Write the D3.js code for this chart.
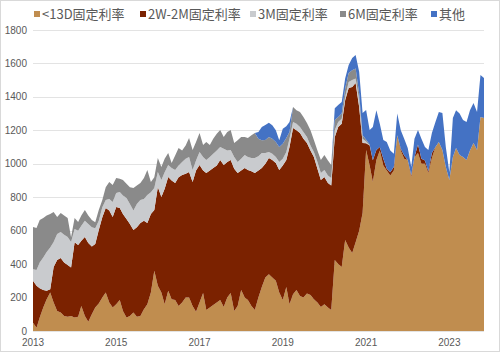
<!DOCTYPE html>
<html>
<head>
<meta charset="utf-8">
<script src="https://cdn.jsdelivr.net/npm/d3@7"></script>
<style>
  body { margin: 0; background: #fff; }
  svg { display: block; }
</style>
</head>
<body>
<div id="chart"></div>
<script>
// monthly, 2013-01 .. 2023-11
const startMonth = new Date(2013, 0, 1)
const monthCount = 131
const months = d3.timeMonth.range(startMonth, d3.timeMonth.offset(startMonth, monthCount))

const seriesNames = ["<13D固定利率", "2W-2M固定利率", "3M固定利率", "6M固定利率", "其他"]
const yTicks = [0, 200, 400, 600, 800, 1000, 1200, 1400, 1600, 1800]
const xTickYears = [2013, 2015, 2017, 2019, 2021, 2023]

const fixed13D = [
  50, 20, 80, 140, 190, 230, 170, 120, 110, 90, 85, 90,
  80, 85, 150, 90, 55, 100, 140, 165, 200, 230, 170, 140,
  160, 185, 120, 80, 90, 110, 85, 90, 130, 160, 230, 360,
  270, 230, 160, 240, 190, 185, 150, 170, 200, 200, 150, 115,
  170, 227, 126, 140, 155, 170, 185, 144, 200, 227, 120, 150,
  245, 200, 185, 150, 126, 200, 263, 320, 340, 320, 300, 230,
  185, 263, 160, 220, 245, 210, 200, 225, 215, 190, 170, 144,
  160, 140, 126, 425, 400, 383, 544, 500, 467, 530, 600, 705,
  1083, 990, 891, 1023, 1080, 990, 960, 930, 960, 1170, 1080, 1030,
  1023, 921, 1040, 1065, 1000, 1000, 945, 1035, 1100, 1130, 1083, 980,
  903, 1040, 1095, 1053, 1040, 1023, 1080, 1124, 1083, 1280, 1274
]
const fixed2W2M = [
  250, 250, 175, 105, 50, 20, 213, 305, 327, 320, 310, 290,
  450, 429, 390, 472, 471, 405, 380, 439, 480, 506, 550, 542,
  582, 551, 580, 590, 550, 494, 535, 556, 530, 486, 470, 364,
  591, 571, 690, 681, 710, 700, 770, 763, 740, 751, 741, 845,
  823, 733, 819, 820, 820, 820, 838, 849, 810, 796, 850, 795,
  715, 775, 778, 805, 819, 760, 712, 680, 695, 703, 705, 733,
  805, 760, 940, 994, 955, 974, 950, 899, 865, 850, 800, 759,
  761, 745, 744, 735, 820, 857, 836, 953, 992, 953, 740, 419,
  40, 120, 130, 60, 20, 40, 10, 20, 20, 0, 10, 20,
  0, 10, 0, 50, 30, 20, 10, 30, 0, 0, 0, 0,
  0, 0, 0, 0, 0, 0, 0, 0, 0, 0, 0
]
const fixed3M = [
  70, 95, 155, 195, 233, 250, 149, 155, 155, 165, 167, 152,
  80, 86, 90, 98, 114, 115, 95, 56, 60, 47, 70, 89,
  83, 95, 110, 125, 120, 116, 140, 137, 130, 167, 130, 131,
  90, 102, 100, 72, 75, 78, 70, 78, 90, 89, 72, 60,
  78, 80, 78, 80, 85, 90, 77, 97, 70, 60, 70, 66,
  70, 78, 77, 80, 90, 85, 90, 65, 36, 37, 35, 48,
  40, 48, 50, 36, 40, 36, 40, 36, 30, 30, 40, 42,
  42, 45, 45, 42, 30, 30, 20, 36, 42, 27, 42, 26,
  10, 0, 0, 0, 0, 0, 0, 0, 0, 0, 0, 0,
  0, 0, 0, 0, 0, 0, 0, 0, 0, 0, 0, 0,
  0, 0, 0, 0, 0, 0, 0, 0, 0, 0, 0
]
const fixed6M = [
  252, 251, 254, 236, 217, 200, 180, 102, 114, 115, 114, 28,
  66, 52, 60, 64, 50, 44, 35, 64, 43, 77, 101, 102,
  90, 79, 93, 85, 100, 135, 110, 102, 125, 150, 61, 65,
  84, 78, 80, 72, 30, 87, 105, 69, 80, 114, 120, 110,
  113, 72, 107, 72, 90, 100, 102, 70, 110, 119, 84, 129,
  130, 107, 114, 135, 149, 105, 75, 77, 89, 90, 90, 89,
  90, 83, 40, 90, 80, 90, 90, 84, 90, 72, 70, 78,
  90, 90, 78, 60, 30, 30, 50, 54, 59, 60, 38, 20,
  10, 5, 0, 0, 0, 0, 0, 0, 0, 0, 0, 0,
  0, 0, 0, 0, 0, 0, 0, 0, 0, 0, 0, 0,
  0, 0, 0, 0, 0, 0, 0, 0, 0, 0, 0
]
const other = [
  0, 0, 0, 0, 0, 0, 0, 0, 0, 0, 0, 0,
  0, 0, 0, 0, 0, 0, 0, 0, 0, 0, 0, 0,
  0, 0, 0, 0, 0, 0, 0, 0, 0, 0, 0, 0,
  0, 0, 0, 0, 0, 0, 0, 0, 0, 0, 0, 0,
  0, 0, 0, 0, 0, 0, 0, 0, 0, 0, 0, 0,
  0, 0, 0, 0, 0, 40, 80, 90, 85, 80, 70, 40,
  90, 70, 60, 0, 0, 0, 0, 0, 0, 0, 0, 0,
  0, 0, 0, 70, 72, 70, 60, 48, 73, 80, 130, 134,
  179, 87, 199, 237, 140, 112, 160, 130, 80, 130, 110, 100,
  72, 49, 110, 87, 120, 80, 128, 119, 150, 180, 221, 120,
  47, 234, 225, 247, 222, 227, 240, 240, 227, 251, 239
]

const seriesValues = [fixed13D, fixed2W2M, fixed3M, fixed6M, other]
const colors = ["#C08D4F", "#7B2200", "#C9CBCE", "#8A8A8A", "#4472C4"]

const width = 500
const height = 352
const margin = { top: 30, right: 16, bottom: 21, left: 33 }

const svg = d3.select("#chart")
  .append("svg")
  .attr("width", width)
  .attr("height", height)

// chart border
svg.append("rect")
  .attr("x", 0.5).attr("y", 0.5)
  .attr("width", width - 1).attr("height", height - 1)
  .attr("fill", "#fff")
  .attr("stroke", "#d9d9d9")

const rows = months.map((m, i) => {
  const r = { date: m }
  seriesNames.forEach((k, j) => { r[k] = seriesValues[j][i] })
  return r
})

const x = d3.scaleTime()
  .domain([months[0], months[months.length - 1]])
  .range([margin.left, width - margin.right])

const y = d3.scaleLinear()
  .domain([0, 1800])
  .range([height - margin.bottom, margin.top])

// gridlines
svg.append("g")
  .selectAll("line")
  .data(yTicks)
  .join("line")
  .attr("x1", margin.left)
  .attr("x2", width - margin.right)
  .attr("y1", d => Math.round(y(d)) + 0.5)
  .attr("y2", d => Math.round(y(d)) + 0.5)
  .attr("stroke", "#e3e3e3")

const stacked = d3.stack().keys(seriesNames)(rows)

const area = d3.area()
  .x(d => x(d.data.date))
  .y0(d => y(d[0]))
  .y1(d => y(d[1]))

svg.append("g")
  .selectAll("path")
  .data(stacked)
  .join("path")
  .attr("d", area)
  .attr("fill", (d, i) => colors[i])

// y axis labels
svg.append("g")
  .selectAll("text")
  .data(yTicks)
  .join("text")
  .attr("x", 27)
  .attr("y", d => y(d))
  .attr("dy", "0.35em")
  .attr("text-anchor", "end")
  .style("font-family", "'Liberation Sans', Arial, sans-serif")
  .style("font-size", "10px")
  .attr("fill", "#595959")
  .text(d => d)

// x axis labels
svg.append("g")
  .selectAll("text")
  .data(xTickYears)
  .join("text")
  .attr("x", d => x(new Date(d, 0, 1)))
  .attr("y", height - 6)
  .attr("text-anchor", "middle")
  .style("font-family", "'Liberation Sans', Arial, sans-serif")
  .style("font-size", "10px")
  .attr("fill", "#595959")
  .text(d => d)

// legend
const legendX = [34, 140, 250, 340, 431]
const legend = svg.append("g")
  .selectAll("g")
  .data(seriesNames)
  .join("g")
  .attr("transform", (d, i) => "translate(" + legendX[i] + ",14)")

legend.append("rect")
  .attr("x", 0).attr("y", -3)
  .attr("width", 6).attr("height", 6)
  .attr("fill", (d, i) => colors[i])

legend.append("text")
  .attr("x", 8)
  .attr("dy", "0.35em")
  .style("font-family", "'Noto Sans CJK SC', sans-serif")
  .style("font-size", "13px")
  .attr("fill", "#595959")
  .text(d => d)
</script>
</body>
</html>
